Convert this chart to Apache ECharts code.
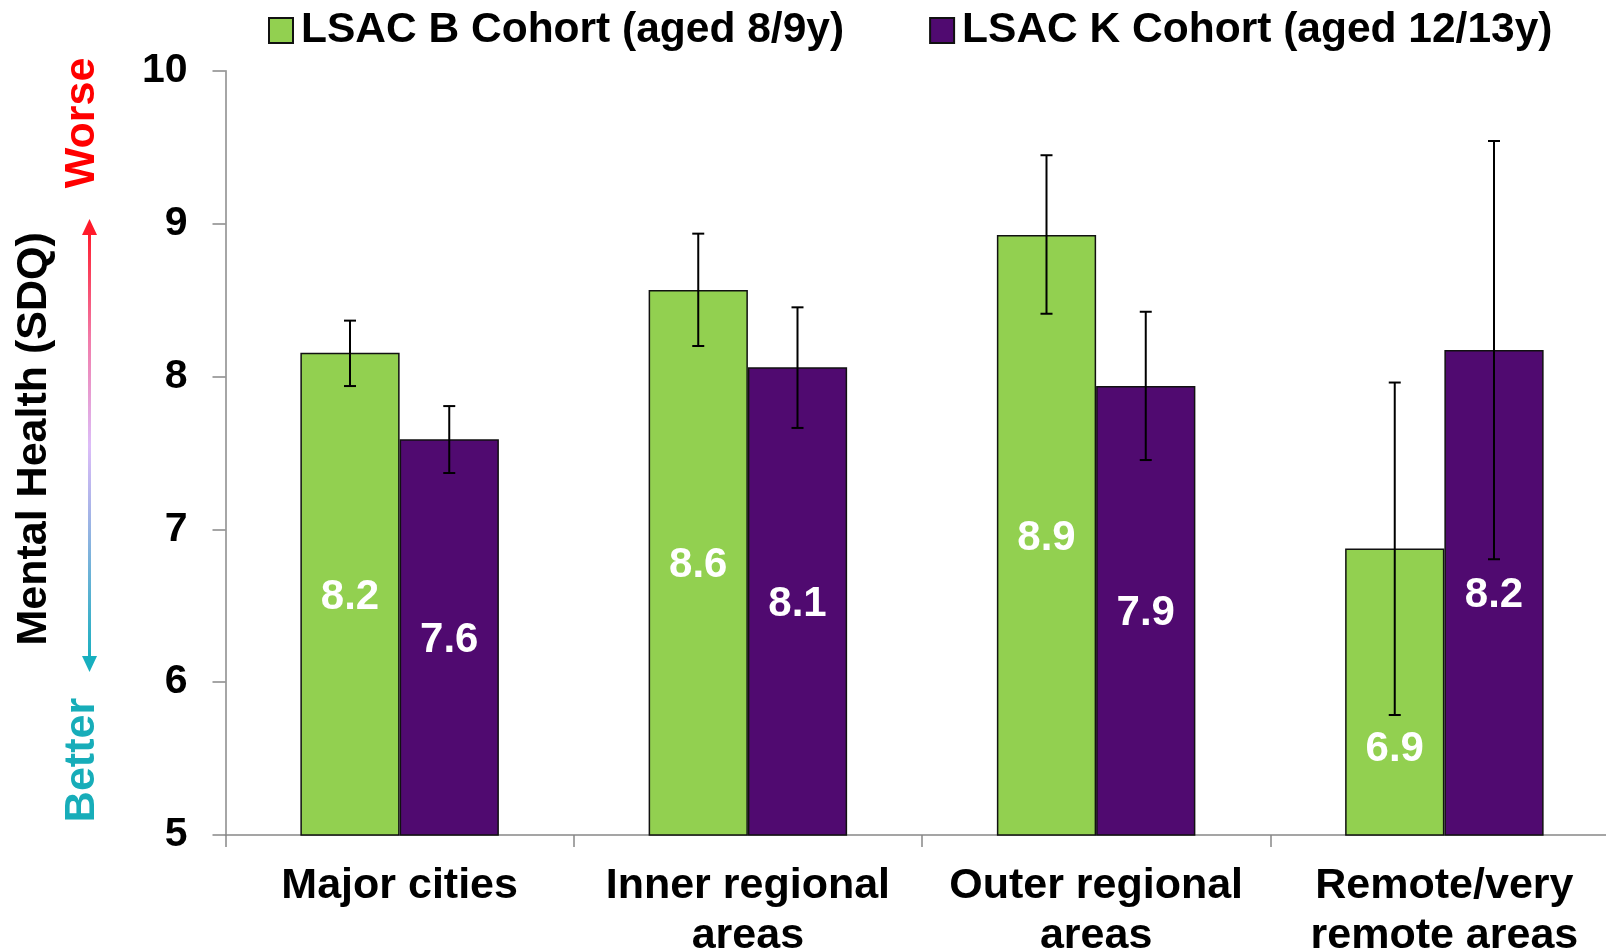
<!DOCTYPE html>
<html lang="en">

<head>
    <meta charset="UTF-8">
    <title>Mental Health (SDQ) by remoteness</title>
    <script src="https://cdn.jsdelivr.net/npm/echarts@6/dist/echarts.min.js"></script>
    <style>
        html, body {
            margin: 0;
            padding: 0;
            background-color: #fff;
        }
        #main {
            width: 1606px;
            height: 952px;
        }
    </style>
</head>

<body>
    <div id="main"></div>
    <script type="text/javascript">
        // categories and series
        var areas = ['Major cities', 'Inner regional\nareas', 'Outer regional\nareas', 'Remote/very\nremote areas'];
        var seriesNames = ['LSAC B Cohort (aged 8/9y)', 'LSAC K Cohort (aged 12/13y)'];

        // mean SDQ score, with lower / upper ends of the error bars
        var bMean = [8.155, 8.565, 8.925, 6.874];
        var bLow = [7.937, 8.199, 8.41, 5.785];
        var bHigh = [8.365, 8.934, 9.447, 7.96];

        var kMean = [7.589, 8.06, 7.937, 8.173];
        var kLow = [7.368, 7.663, 7.453, 6.804];
        var kHigh = [7.806, 8.452, 8.423, 9.54];

        var yTicks = [5, 6, 7, 8, 9, 10];

        var font = "'Liberation Sans', Arial, sans-serif";
        var barFrac = 0.285;

        var myChart = echarts.init(document.getElementById('main'));

        function errData(low, high) {
            return low.map(function (v, i) { return [i, v, high[i]]; });
        }

        function errorBars(side) {
            return function (params, api) {
                var band = api.size([1, 0])[0];
                var off = side * band * barFrac / 2;
                var top = api.coord([api.value(0), api.value(2)]);
                var bot = api.coord([api.value(0), api.value(1)]);
                var x = top[0] + off;
                var cap = 6;
                var style = { stroke: '#000', lineWidth: 2 };
                return {
                    type: 'group',
                    children: [
                        { type: 'line', shape: { x1: x, y1: top[1], x2: x, y2: bot[1] }, style: style },
                        { type: 'line', shape: { x1: x - cap, y1: top[1], x2: x + cap, y2: top[1] }, style: style },
                        { type: 'line', shape: { x1: x - cap, y1: bot[1], x2: x + cap, y2: bot[1] }, style: style }
                    ]
                };
            };
        }

        var labelStyle = {
            show: true,
            position: 'inside',
            offset: [0, 3],
            color: '#fff',
            fontFamily: font,
            fontWeight: 'bold',
            fontSize: 42,
            textBorderWidth: 0,
            formatter: function (p) { return p.value.toFixed(1); }
        };

        var bData = bMean.map(function (v, i) {
            // the remote label sits lower, clear of the error bar
            return i === 3 ? { value: v, label: { offset: [0, 57] } } : v;
        });

        var option = {
            animation: false,
            textStyle: { fontFamily: font },
            legend: {
                data: seriesNames,
                icon: 'rect',
                left: 268,
                top: 9,
                padding: 0,
                itemWidth: 24,
                itemHeight: 25,
                itemGap: 85,
                textStyle: {
                    fontFamily: font,
                    fontWeight: 'bold',
                    fontSize: 42.5,
                    color: '#000',
                    padding: [0, 0, 0, 3]
                }
            },
            grid: {
                left: 225.5,
                top: 70.7,
                width: 1393,
                height: 764.3,
                outerBoundsMode: 'none'
            },
            xAxis: {
                type: 'category',
                data: areas,
                axisLine: { lineStyle: { color: '#888', width: 1.5 } },
                axisTick: { show: true, length: 12, lineStyle: { color: '#888', width: 1.5 } },
                axisLabel: {
                    interval: 0,
                    margin: 26,
                    color: '#000',
                    fontFamily: font,
                    fontWeight: 'bold',
                    fontSize: 43,
                    lineHeight: 50
                }
            },
            yAxis: {
                type: 'value',
                min: yTicks[0],
                max: yTicks[yTicks.length - 1],
                interval: 1,
                name: 'Mental Health (SDQ)',
                nameLocation: 'middle',
                nameRotate: 90,
                nameGap: 170,
                nameTextStyle: {
                    color: '#000',
                    fontFamily: font,
                    fontWeight: 'bold',
                    fontSize: 43,
                    padding: [0, 0, 0, 28]
                },
                splitLine: { show: false },
                axisLine: { show: true, lineStyle: { color: '#888', width: 1.5 } },
                axisTick: { show: true, length: 13, lineStyle: { color: '#888', width: 1.5 } },
                axisLabel: {
                    margin: 38,
                    color: '#000',
                    fontFamily: font,
                    fontWeight: 'bold',
                    fontSize: 41
                }
            },
            graphic: [
                {
                    type: 'text', x: 82, y: 123, rotation: Math.PI / 2,
                    style: {
                        text: 'Worse', fill: '#ff0000', font: 'bold 43px ' + font,
                        align: 'center', verticalAlign: 'middle'
                    }
                },
                {
                    type: 'text', x: 82, y: 760, rotation: Math.PI / 2,
                    style: {
                        text: 'Better', fill: '#17adb9', font: 'bold 43px ' + font,
                        align: 'center', verticalAlign: 'middle'
                    }
                },
                {
                    type: 'line',
                    shape: { x1: 89.5, y1: 232, x2: 89.5, y2: 659 },
                    style: {
                        lineWidth: 3,
                        stroke: new echarts.graphic.LinearGradient(0, 0, 0, 1, [
                            { offset: 0, color: '#ff1a2a' },
                            { offset: 0.25, color: '#f27aa8' },
                            { offset: 0.5, color: '#dcbcf8' },
                            { offset: 0.65, color: '#a8b4e8' },
                            { offset: 1, color: '#17afbf' }
                        ])
                    }
                },
                {
                    type: 'polygon',
                    shape: { points: [[89.5, 219], [82, 235], [97, 235]] },
                    style: { fill: '#ff1a2a' }
                },
                {
                    type: 'polygon',
                    shape: { points: [[89.5, 672], [82, 656], [97, 656]] },
                    style: { fill: '#17afbf' }
                }
            ],
            series: [
                {
                    name: seriesNames[0],
                    type: 'bar',
                    data: bData,
                    barWidth: (barFrac * 100) + '%',
                    barGap: '0%',
                    itemStyle: { color: '#92d050', borderColor: '#111', borderWidth: 1.5 },
                    label: labelStyle
                },
                {
                    name: seriesNames[1],
                    type: 'bar',
                    data: kMean,
                    barWidth: (barFrac * 100) + '%',
                    barGap: '0%',
                    itemStyle: { color: '#500a70', borderColor: '#111', borderWidth: 1.5 },
                    label: labelStyle
                },
                {
                    type: 'custom',
                    renderItem: errorBars(-1),
                    data: errData(bLow, bHigh),
                    z: 10
                },
                {
                    type: 'custom',
                    renderItem: errorBars(1),
                    data: errData(kLow, kHigh),
                    z: 10
                }
            ]
        };

        myChart.setOption(option);
    </script>
</body>

</html>
